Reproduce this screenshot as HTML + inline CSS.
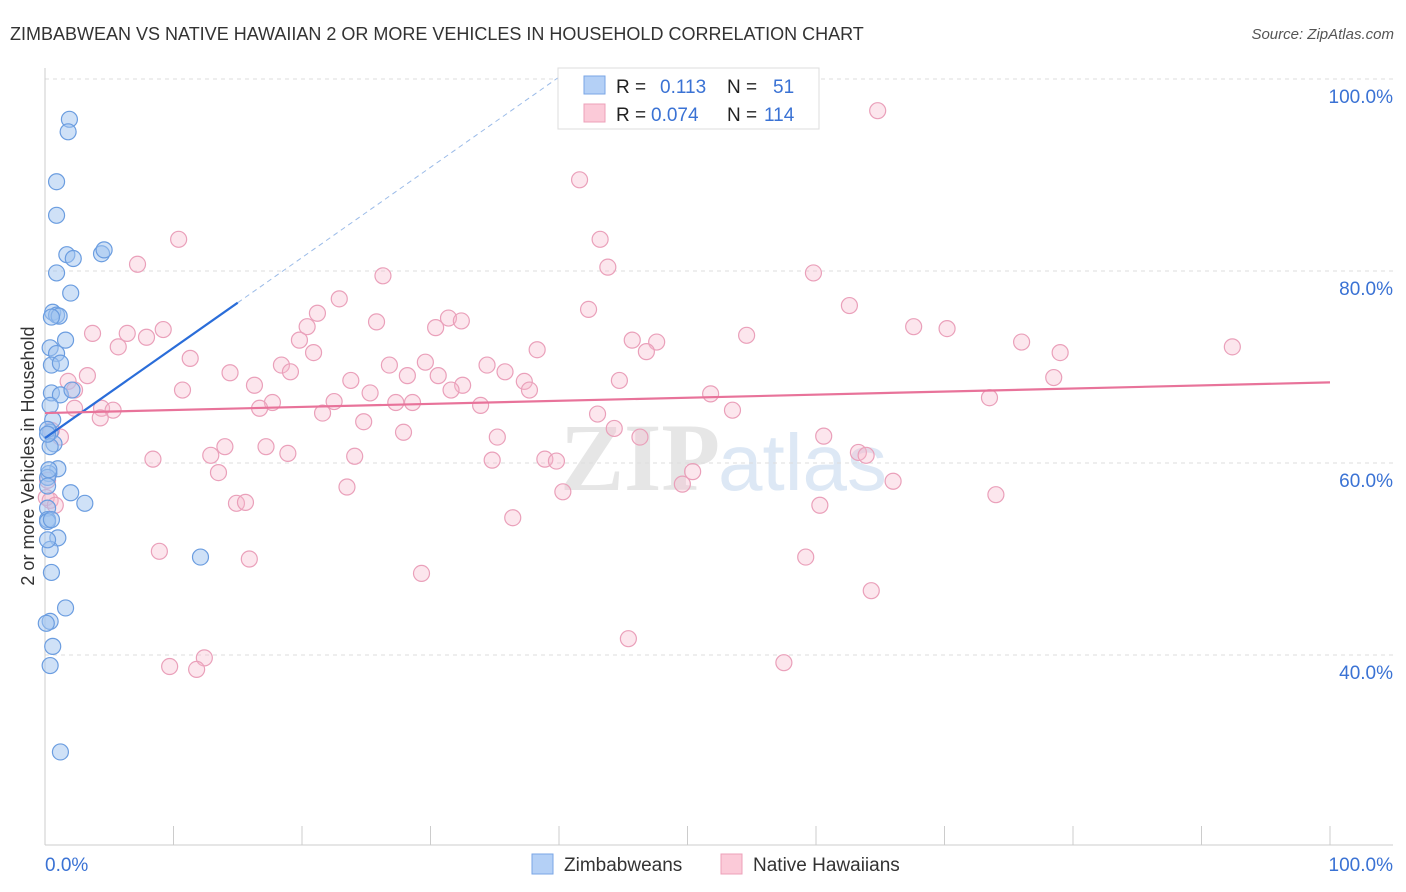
<!DOCTYPE html>
<html><head><meta charset="utf-8"><style>
body{margin:0;background:#fff;font-family:"Liberation Sans",sans-serif;}
svg{display:block}
</style></head><body>
<svg id="chart" width="1406" height="892" xmlns="http://www.w3.org/2000/svg">
<text x="10" y="40" font-size="18" fill="#333">ZIMBABWEAN VS NATIVE HAWAIIAN 2 OR MORE VEHICLES IN HOUSEHOLD CORRELATION CHART</text>
<text x="1394" y="39" font-size="15" fill="#555" font-style="italic" text-anchor="end">Source: ZipAtlas.com</text>
<text x="720" y="490" font-size="96" fill="#e6e6e6" text-anchor="end" font-weight="bold" font-family="Liberation Serif,serif">ZIP</text>
<text x="718" y="490" font-size="80" fill="#dde8f5">atlas</text>
<g id="grid"></g>
<g id="axes"></g>
<g id="pts"></g>
<g id="lines"></g>
<text transform="translate(34,456) rotate(-90)" font-size="18" fill="#333" text-anchor="middle">2 or more Vehicles in Household</text>
<g>
<rect x="558" y="68" width="261" height="61" fill="#fff" stroke="#ddd"/>
<rect x="584" y="76" width="21" height="18" fill="#b4d0f6" stroke="#7aa6e6"/>
<rect x="584" y="104" width="21" height="18" fill="#fbcad8" stroke="#eca0b9"/>
<text x="616" y="93" font-size="19" fill="#222">R = <tspan x="660" fill="#3a72d4">0.113</tspan><tspan x="727" fill="#222">N =</tspan><tspan x="773" fill="#3a72d4">51</tspan></text>
<text x="616" y="121" font-size="19" fill="#222">R = <tspan x="651" fill="#3a72d4">0.074</tspan><tspan x="727" fill="#222">N =</tspan><tspan x="764" fill="#3a72d4">114</tspan></text>
</g>
<g>
<rect x="532" y="854" width="21" height="20" fill="#b4d0f6" stroke="#7aa6e6"/>
<text x="564" y="871" font-size="19" fill="#333">Zimbabweans</text>
<rect x="721" y="854" width="21" height="20" fill="#fbcad8" stroke="#eca0b9"/>
<text x="753" y="871" font-size="19" fill="#333">Native Hawaiians</text>
</g>
</svg>
<script>
const NS="http://www.w3.org/2000/svg";
const yTicks=[40,60,80,100];
const yTickLabels=["40.0%","60.0%","80.0%","100.0%"];
const xTickLabels=["0.0%","100.0%"];
const blueX=[1.9,1.8,0.9,0.9,1.7,2.2,0.9,2.0,0.6,0.9,1.1,0.5,1.6,0.4,0.9,0.5,1.2,0.5,1.2,2.1,0.4,0.6,0.4,0.7,0.4,1.0,0.3,0.2,2.0,3.1,0.2,0.2,0.2,1.0,0.4,0.5,1.6,0.4,0.1,0.6,0.4,1.2,4.4,4.6,12.1,0.2,0.2,0.5,0.2,0.3,0.2];
const blueY=[95.8,94.5,89.3,85.8,81.7,81.3,79.8,77.7,75.7,75.4,75.3,75.2,72.8,72.0,71.4,70.2,70.4,67.3,67.1,67.6,66.0,64.5,63.2,62.0,61.7,59.4,58.9,58.5,56.9,55.8,55.3,54.1,53.9,52.2,51.0,48.6,44.9,43.5,43.3,40.9,38.9,29.9,81.8,82.2,50.2,63.5,63.0,54.1,57.6,59.3,52.0];
const pinkX=[64.8,41.6,10.4,43.2,7.2,43.8,59.8,26.3,22.9,42.3,62.6,21.2,25.8,20.4,31.4,32.4,30.4,3.7,6.4,9.2,7.9,5.7,19.8,20.9,11.3,38.3,45.7,47.6,46.8,54.6,67.6,70.2,76.0,79.0,92.4,18.4,19.1,14.4,26.8,29.6,34.4,30.6,28.2,32.5,35.8,37.3,23.8,16.3,10.7,3.3,1.8,2.3,25.3,31.6,37.7,44.7,51.8,78.5,17.7,16.7,22.5,27.3,28.6,33.9,53.5,73.5,21.6,4.4,5.3,4.3,2.3,24.8,43.0,27.9,35.2,44.3,46.3,60.6,1.2,14.0,17.2,12.9,18.9,63.3,63.9,8.4,24.1,34.8,38.9,39.8,13.5,50.4,49.6,66.0,23.5,40.3,14.9,15.6,74.0,60.3,36.4,8.9,15.9,59.2,29.3,64.3,45.4,12.4,9.7,11.8,57.5,0.1,0.2,0.4,0.8,0.5];
const pinkY=[96.7,89.5,83.3,83.3,80.7,80.4,79.8,79.5,77.1,76.0,76.4,75.6,74.7,74.2,75.1,74.8,74.1,73.5,73.5,73.9,73.1,72.1,72.8,71.5,70.9,71.8,72.8,72.6,71.6,73.3,74.2,74.0,72.6,71.5,72.1,70.2,69.5,69.4,70.2,70.5,70.2,69.1,69.1,68.1,69.5,68.5,68.6,68.1,67.6,69.1,68.5,67.6,67.3,67.6,67.6,68.6,67.2,68.9,66.3,65.7,66.4,66.3,66.3,66.0,65.5,66.8,65.2,65.7,65.5,64.7,65.7,64.3,65.1,63.2,62.7,63.6,62.7,62.8,62.7,61.7,61.7,60.8,61.0,61.1,60.8,60.4,60.7,60.3,60.4,60.2,59.0,59.1,57.8,58.1,57.5,57.0,55.8,55.9,56.7,55.6,54.3,50.8,50.0,50.2,48.5,46.7,41.7,39.7,38.8,38.5,39.2,56.4,58.2,56.1,55.6,63.4];
const blueTrend=[62.6,0.94];
const pinkTrend=[65.2,0.032];
const X=v=>45+v*12.85, Y=v=>79+(100-v)*9.6;
function mk(t,a,p){const e=document.createElementNS(NS,t);for(const k in a)e.setAttribute(k,a[k]);p.appendChild(e);return e;}
const grid=document.getElementById('grid'),axes=document.getElementById('axes'),pts=document.getElementById('pts'),lines=document.getElementById('lines');
yTicks.forEach((t,i)=>{
 const l=mk('line',{x1:45,x2:1393,y1:Y(t),y2:Y(t),stroke:'#ddd','stroke-dasharray':'4,4'},grid);
 
 
 const tx=mk('text',{x:1393,y:Y(t)+24,'font-size':19,fill:'#3a72d4','text-anchor':'end'},axes);
 tx.textContent=yTickLabels[i];
 
 
});
mk('line',{x1:45,x2:45,y1:68,y2:845,stroke:'#ccc'},axes);
mk('line',{x1:45,x2:1393,y1:845,y2:845,stroke:'#ccc'},axes);
for(let i=0;i<=10;i++){const t=mk('line',{x1:X(i*10),x2:X(i*10),y1:826,y2:845,stroke:'#ccc'},axes);
 
 }
[[0,'start',45],[100,'middle',X(100)+30]].forEach((d,i)=>{const t=mk('text',{x:i?1393:45,y:871,'font-size':19,fill:'#3a72d4','text-anchor':i?'end':'start'},axes);t.textContent=xTickLabels[i];
 
 });
pinkX.forEach((x,i)=>{const c=mk('circle',{cx:X(x),cy:Y(pinkY[i]),r:8,fill:'rgba(247,182,202,0.35)',stroke:'#eaa0ba','stroke-width':1.2},pts);
 
 });
blueX.forEach((x,i)=>{const c=mk('circle',{cx:X(x),cy:Y(blueY[i]),r:8,fill:'rgba(160,196,240,0.5)',stroke:'#6b9de0','stroke-width':1.2},pts);
 
 });
const bl=mk('line',{x1:X(0),y1:Y(blueTrend[0]),x2:X(15),y2:Y(blueTrend[0]+15*blueTrend[1]),stroke:'#2a6dd9','stroke-width':2.2},lines);


const bd=mk('line',{x1:X(15),y1:Y(blueTrend[0]+15*blueTrend[1]),x2:X(41),y2:Y(blueTrend[0]+41*blueTrend[1]),stroke:'#9bbbe8','stroke-width':1,'stroke-dasharray':'5,4'},lines);


const pl=mk('line',{x1:X(0),y1:Y(pinkTrend[0]),x2:X(100),y2:Y(pinkTrend[0]+100*pinkTrend[1]),stroke:'#e8739a','stroke-width':2.2},lines);


</script>
</body></html>
